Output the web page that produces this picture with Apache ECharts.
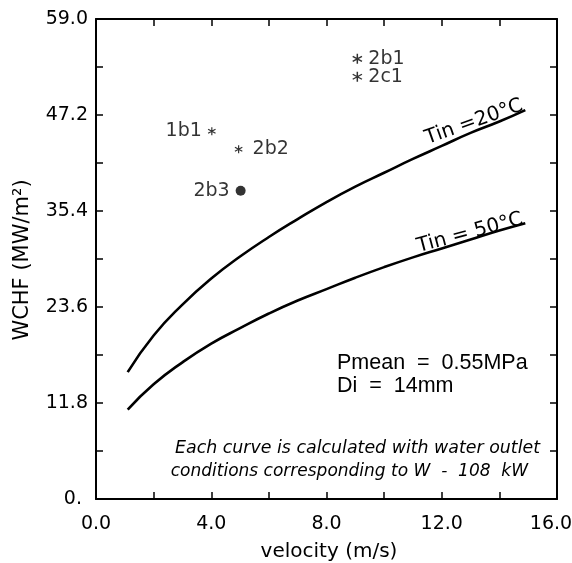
<!DOCTYPE html>
<html><head><meta charset="utf-8">
<script src="https://cdn.jsdelivr.net/npm/echarts@6/dist/echarts.min.js"></script>
<style>html,body{margin:0;padding:0;background:#fff}#c{width:572px;height:563px}</style>
</head><body><div id="c"></div>
<script>
// Data
var xTicks = [0, 4, 8, 12, 16];
var yTicks = [0, 11.8, 23.6, 35.4, 47.2, 59.0];
var yTickLabels = ['0. ', '11.8', '23.6', '35.4', '47.2', '59.0'];

var velocity20 = [1.1, 2, 3, 4, 5, 6, 7, 8, 9, 10, 11, 12, 13, 14, 14.9];
var wchf20     = [15.6, 20.1, 23.9, 27.1, 29.8, 32.2, 34.4, 36.5, 38.4, 40.1, 41.8, 43.4, 45.0, 46.4, 47.8];
var velocity50 = [1.1, 2, 3, 4, 5, 6, 7, 8, 9, 10, 11, 12, 13, 14, 14.9];
var wchf50     = [11.0, 14.1, 16.8, 19.1, 21.0, 22.8, 24.4, 25.8, 27.2, 28.5, 29.7, 30.8, 31.9, 33.0, 33.9];

var pointNames = ['2b1', '2c1', '1b1', '2b2', '2b3'];
var pointX     = [9.07, 9.07, 4.02, 4.95, 5.02];
var pointY     = [54.1, 51.9, 45.2, 43.0, 37.9];
var pointKind  = ['star', 'star', 'smallstar', 'smallstar', 'dot'];
var labelSide  = ['right', 'right', 'left', 'right', 'left'];

var ASTER = 'path://M-0.7,5L0.7,5L0.7,-5L-0.7,-5Z M3.98,3.11L4.68,1.89L-3.98,-3.11L-4.68,-1.89Z M-4.68,1.89L-3.98,3.11L4.68,-1.89L3.98,-3.11Z';

var chart = echarts.init(document.getElementById('c'), null, {renderer: 'canvas'});
var SANS = 'DejaVu Sans, sans-serif';
var HELV = 'Liberation Sans, Arial, sans-serif';
var axisCol = '#000';

function pairs(xs, ys) { return xs.map(function (x, i) { return [x, ys[i]]; }); }

var scatterData = pointNames.map(function (n, i) {
  var k = pointKind[i];
  return {
    name: n,
    value: [pointX[i], pointY[i]],
    symbol: k === 'dot' ? 'circle' : ASTER,
    symbolSize: k === 'dot' ? 10 : (k === 'star' ? 10 : 8),
    label: {position: labelSide[i], color: '#000',
      distance: k === 'smallstar' && labelSide[i] === 'right' ? 10 : 6}
  };
});

function xAxisDef(pos, show) {
  return {
    type: 'value', min: 0, max: 16, interval: 4, position: pos,
    axisLine: {show: true, onZero: false, lineStyle: {color: axisCol, width: 2}},
    axisTick: {show: true, inside: true, length: 7, lineStyle: {color: axisCol, width: 1.5}},
    minorTick: {show: true, splitNumber: 2, length: 7, lineStyle: {color: axisCol, width: 1.5}},
    splitLine: {show: false},
    axisLabel: {show: show, color: '#000', fontSize: 19, fontFamily: SANS, margin: 16,
      rich: {last: {fontSize: 19, fontFamily: SANS, color: '#000', padding: [0, 12, 0, 0]}},
      formatter: function (v) {
        var s = v.toFixed(1);
        return v === xTicks[xTicks.length - 1] ? '{last|' + s + '}' : s;
      }}
  };
}
function yAxisDef(pos, show) {
  return {
    type: 'value', min: 0, max: 59, interval: 11.8, position: pos,
    axisLine: {show: true, onZero: false, lineStyle: {color: axisCol, width: 2}},
    axisTick: {show: true, inside: true, length: 7, lineStyle: {color: axisCol, width: 1.5}},
    minorTick: {show: true, splitNumber: 2, length: 7, lineStyle: {color: axisCol, width: 1.5}},
    splitLine: {show: false},
    axisLabel: {show: show, color: '#000', fontSize: 19, fontFamily: SANS, margin: 8,
      formatter: function (v) {
        var idx = yTicks.findIndex(function (t) { return Math.abs(t - v) < 1e-6; });
        return idx >= 0 ? yTickLabels[idx] : '';
      }}
  };
}

var option = {
  backgroundColor: '#fff',
  animation: false,
  grid: {left: 96, right: 15, top: 19, bottom: 64, containLabel: false, outerBoundsMode: 'none'},
  xAxis: [xAxisDef('bottom', true), xAxisDef('top', false)],
  yAxis: [yAxisDef('left', true), yAxisDef('right', false)],
  series: [
    {type: 'line', data: pairs(velocity20, wchf20), smooth: true, showSymbol: false,
      lineStyle: {color: '#000', width: 2.6}},
    {type: 'line', data: pairs(velocity50, wchf50), smooth: true, showSymbol: false,
      lineStyle: {color: '#000', width: 2.6}},
    {type: 'scatter', data: scatterData, itemStyle: {color: '#000'},
      label: {show: true, formatter: '{b}', color: '#000', fontSize: 19, fontFamily: SANS}}
  ],
  graphic: [
    {type: 'text', x: 23, y: 260, rotation: Math.PI / 2,
      style: {text: 'WCHF (MW/m²)', fill: '#000', font: '21px ' + SANS, align: 'center', verticalAlign: 'middle'}},
    {type: 'text', x: 329, y: 552,
      style: {text: 'velocity (m/s)', fill: '#000', font: '20px ' + SANS, align: 'center', verticalAlign: 'middle'}},
    {type: 'text', x: 474, y: 122, rotation: 19.5 * Math.PI / 180,
      style: {text: 'Tin =20°C', fill: '#000', font: '20px ' + SANS, align: 'center', verticalAlign: 'middle'}},
    {type: 'text', x: 470, y: 233, rotation: 15 * Math.PI / 180,
      style: {text: 'Tin = 50°C', fill: '#000', font: '20px ' + SANS, align: 'center', verticalAlign: 'middle'}},
    {type: 'text', x: 337, y: 363,
      style: {text: 'Pmean  =  0.55MPa', fill: '#000', font: '21.5px ' + HELV, align: 'left', verticalAlign: 'middle'}},
    {type: 'text', x: 337, y: 386,
      style: {text: 'Di  =  14mm', fill: '#000', font: '21.5px ' + HELV, align: 'left', verticalAlign: 'middle'}},
    {type: 'text', x: 540, y: 448,
      style: {text: 'Each curve is calculated with water outlet', fill: '#000', font: 'italic 17.4px ' + SANS, align: 'right', verticalAlign: 'middle'}},
    {type: 'text', x: 528, y: 472,
      style: {text: 'conditions corresponding to W  -  108  kW', fill: '#000', font: 'italic 17px ' + SANS, align: 'right', verticalAlign: 'middle'}}
  ]
};
chart.setOption(option);
</script>
</body></html>
